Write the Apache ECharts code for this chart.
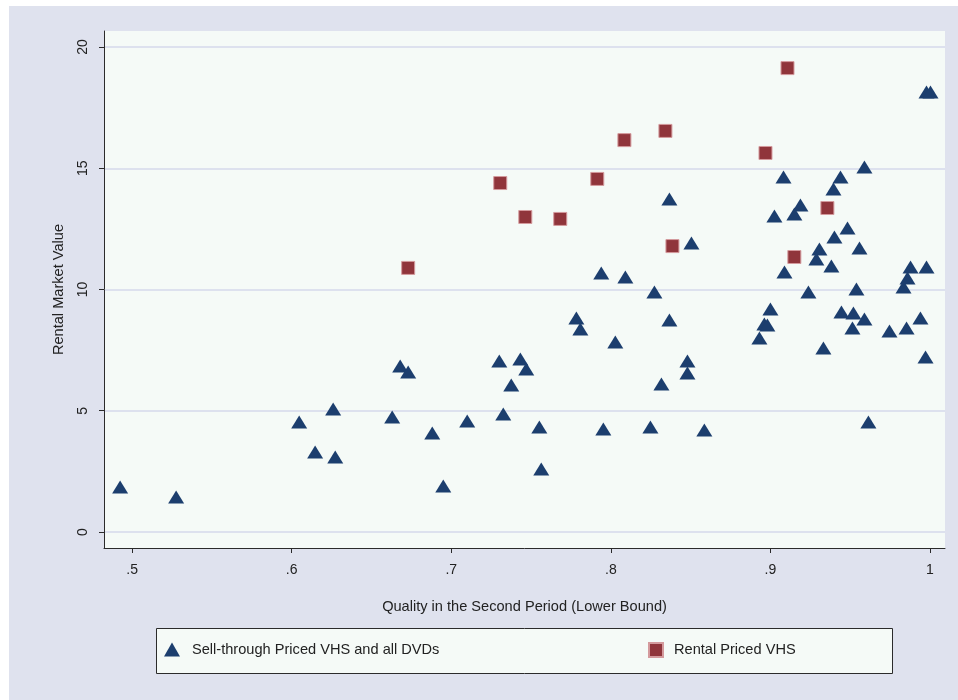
<!DOCTYPE html>
<html>
<head>
<meta charset="utf-8">
<script src="https://cdn.jsdelivr.net/npm/echarts@6/dist/echarts.min.js"></script>
<style>
html,body{margin:0;padding:0;background:#ffffff;}
#bg{position:absolute;left:9px;top:6px;width:949px;height:694px;background:#dfe2ee;}
#chart{position:absolute;left:0;top:0;width:958px;height:700px;}
</style>
</head>
<body>
<div id="bg"></div>
<div id="chart"></div>
<script>
// Sell-through priced VHS and all DVDs
const sellX = [0.4925,0.5276,0.6047,0.6147,0.6260,0.6273,0.6630,0.6680,0.6730,0.6881,
  0.6950,0.7100,0.7301,0.7326,0.7376,0.7433,0.7470,0.7552,0.7564,0.7784,
  0.7809,0.7940,0.7953,0.8028,0.8091,0.8248,0.8273,0.8317,0.8367,0.8367,
  0.8480,0.8480,0.8505,0.8586,0.8931,0.8962,0.8981,0.9000,0.9025,0.9082,
  0.9088,0.9150,0.9188,0.9238,0.9307,0.9288,0.9332,0.9382,0.9401,0.9395,
  0.9439,0.9445,0.9483,0.9514,0.9520,0.9539,0.9558,0.9589,0.9589,0.9614,
  0.9746,0.9853,0.9834,0.9859,0.9878,0.9940,0.9978,1.0003,0.9972,0.9978];
const sellY = [1.86,1.44,4.54,3.30,5.07,3.09,4.74,6.85,6.60,4.08,
  1.90,4.58,7.05,4.87,6.06,7.13,6.72,4.33,2.60,8.82,
  8.37,10.68,4.25,7.84,10.52,4.33,9.90,6.10,13.73,8.74,
  7.05,6.56,11.92,4.21,8.00,8.58,8.54,9.20,13.03,14.64,
  10.72,13.11,13.48,9.90,11.67,11.26,7.59,10.97,12.16,14.14,
  14.64,9.07,12.54,8.41,9.03,10.02,11.71,8.78,15.05,4.54,
  8.29,8.41,10.10,10.47,10.93,8.82,18.14,18.14,7.22,10.93];
// Rental priced VHS
const rentX = [0.6730,0.7307,0.7464,0.7683,0.7915,0.8085,0.8342,0.8386,0.8969,0.9107,0.9357,0.9150];
const rentY = [10.89,14.39,12.99,12.91,14.56,16.16,16.54,11.79,15.63,19.13,13.36,11.34];

const xTicks = [0.5,0.6,0.7,0.8,0.9,1];
const xTickLabels = ['.5','.6','.7','.8','.9','1'];
const yTicks = [0,5,10,15,20];
const yTickLabels = ['0','5','10','15','20'];

const seriesNames = ['Sell-through Priced VHS and all DVDs','Rental Priced VHS'];
const xTitle = 'Quality in the Second Period (Lower Bound)';
const yTitle = 'Rental Market Value';

const sellData = sellX.map((x,i)=>[x,sellY[i]]);
const rentData = rentX.map((x,i)=>[x,rentY[i]]);

const FONT = 'Liberation Sans, Arial, sans-serif';
const TITLE_SIZE = 14.6;
const TICK_SIZE = 14;
const chart = echarts.init(document.getElementById('chart'), null, {renderer:'canvas'});
chart.setOption({
  backgroundColor: 'transparent',
  animation: false,
  textStyle: {fontFamily: FONT},
  grid: {
    left: 104, top: 31, right: 13, bottom: 152,
    show: true, backgroundColor: '#f5faf7', borderWidth: 0
  },
  graphic: [{
    type: 'rect', left: 156, top: 628, z: 0,
    shape: {width: 736, height: 45},
    style: {fill: '#f5faf7', stroke: '#2b2b2b', lineWidth: 1}
  }],
  legend: [{
    data: [{name: seriesNames[0], icon: 'triangle'}],
    left: 164, top: 642, padding: 0,
    itemWidth: 16, itemHeight: 14, itemGap: 0,
    textStyle: {fontSize: TITLE_SIZE, color: '#222', fontFamily: FONT, padding: [0,0,0,7]}
  },{
    data: [{name: seriesNames[1], icon: 'rect'}],
    left: 648, top: 642, padding: 0,
    itemWidth: 14, itemHeight: 14, itemGap: 0,
    textStyle: {fontSize: TITLE_SIZE, color: '#222', fontFamily: FONT, padding: [0,0,0,6]}
  }],
  xAxis: {
    type: 'value', min: 0.4824, max: 1.0094,
    name: xTitle, nameLocation: 'middle', nameGap: 51,
    nameTextStyle: {fontSize: TITLE_SIZE, color: '#222', fontFamily: FONT},
    axisLine: {show: true, onZero: false, lineStyle: {color: '#2b2b2b', width: 1}},
    axisTick: {show: true, length: 5, customValues: xTicks, lineStyle: {color: '#2b2b2b'}},
    axisLabel: {show: true, customValues: xTicks, margin: 15, fontSize: TICK_SIZE, color: '#222',
      formatter: (v)=>{const i = xTicks.findIndex(t=>Math.abs(t-v)<1e-9); return i>=0 ? xTickLabels[i] : '';}},
    splitLine: {show: false}
  },
  yAxis: {
    type: 'value', min: -0.66, max: 20.66,
    name: yTitle, nameLocation: 'middle', nameGap: 38, nameRotate: 90,
    nameTextStyle: {fontSize: TITLE_SIZE, color: '#222', fontFamily: FONT},
    axisLine: {show: true, onZero: false, lineStyle: {color: '#2b2b2b', width: 1}},
    axisTick: {show: true, length: 5, customValues: yTicks, lineStyle: {color: '#2b2b2b'}},
    axisLabel: {show: true, customValues: yTicks, rotate: 90, margin: 14, fontSize: TICK_SIZE, color: '#222',
      formatter: (v)=>{const i = yTicks.findIndex(t=>Math.abs(t-v)<1e-9); return i>=0 ? yTickLabels[i] : '';}},
    splitLine: {show: true, lineStyle: {color: '#dde1ee', width: 2}}
  },
  series: [{
    name: seriesNames[0], type: 'scatter', data: sellData,
    symbol: 'triangle', symbolSize: [16,13],
    itemStyle: {color: '#1c3e6e', opacity: 1}
  },{
    name: seriesNames[1], type: 'scatter', data: rentData,
    symbol: 'rect', symbolSize: 13,
    itemStyle: {color: '#90353b', borderColor: '#d49a9d', borderWidth: 1, opacity: 1}
  }]
});
</script>
</body>
</html>
